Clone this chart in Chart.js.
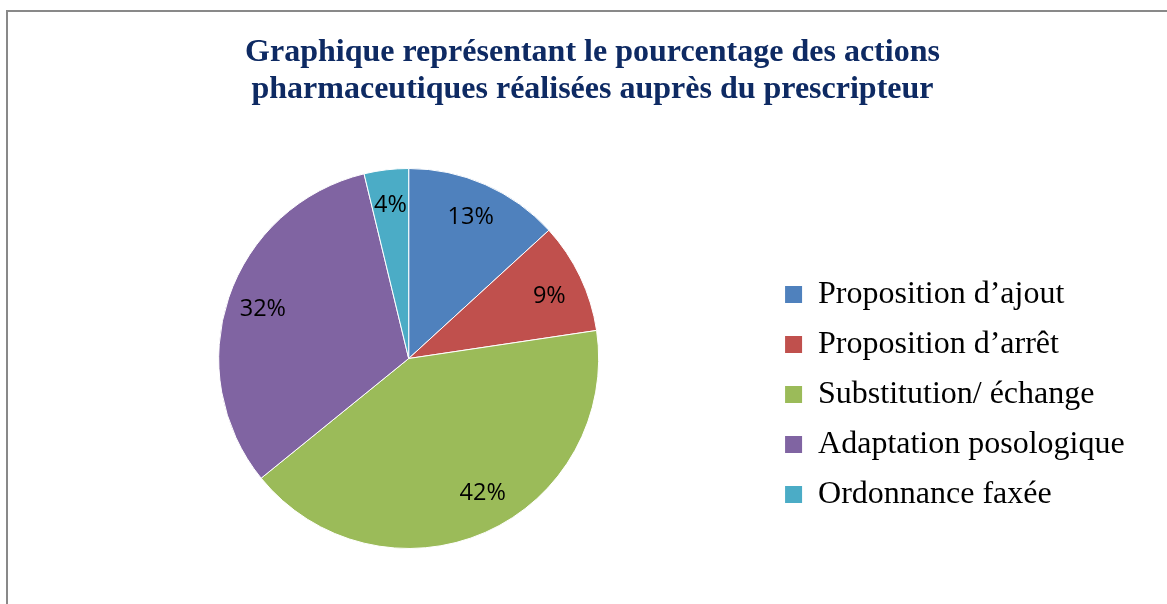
<!DOCTYPE html>
<html><head><meta charset="utf-8">
<script src="https://cdn.jsdelivr.net/npm/chart.js@4.4.1/dist/chart.umd.min.js"></script>
<style>
html,body{margin:0;padding:0;background:#fff;overflow:hidden;width:1167px;height:604px;}
#frame{position:absolute;left:6px;top:10px;width:1300px;height:700px;border-left:2px solid #898989;border-top:2px solid #898989;}
#c{position:absolute;left:0;top:0;}
</style></head><body>
<div id="frame"></div>
<canvas id="c" width="1167" height="604"></canvas>
<script>
// ---- data ----
const titleLines = ['Graphique représentant le pourcentage des actions', 'pharmaceutiques réalisées auprès du prescripteur'];
const categories = ['Proposition d’ajout', 'Proposition d’arrêt', 'Substitution/ échange', 'Adaptation posologique', 'Ordonnance faxée'];
const counts = [7, 5, 22, 17, 2];
const sliceColors = ['#4F81BD', '#C0504D', '#9BBB59', '#8064A2', '#4BACC6'];

const pctLabels = {
  id: 'pctLabels',
  afterDatasetsDraw(chart, args, opts) {
    const meta = chart.getDatasetMeta(0);
    const data = chart.data.datasets[0].data;
    const total = data.reduce((a, b) => a + b, 0);
    const ctx = chart.ctx;
    ctx.save();
    ctx.font = opts.font;
    ctx.fillStyle = opts.color;
    ctx.textAlign = 'center';
    ctx.textBaseline = 'middle';
    meta.data.forEach((arc, i) => {
      const p = arc.getProps(['x', 'y', 'startAngle', 'endAngle', 'outerRadius'], true);
      const mid = (p.startAngle + p.endAngle) / 2 + ((opts.angleShift[i] || 0) * Math.PI / 180);
      const r = p.outerRadius * opts.radiusFactor;
      ctx.fillText(Math.round(data[i] / total * 100) + '%', p.x + r * Math.cos(mid), p.y + r * Math.sin(mid));
    });
    ctx.restore();
  }
};

new Chart(document.getElementById('c'), {
  type: 'pie',
  data: {
    labels: categories,
    datasets: [{
      data: counts,
      backgroundColor: sliceColors,
      borderColor: '#ffffff',
      borderWidth: 1,
      hoverOffset: 0,
      radius: 190,
      clip: false
    }]
  },
  plugins: [pctLabels],
  options: {
    responsive: false,
    animation: false,
    devicePixelRatio: 1,
    layout: { padding: { left: 50.3, right: 32.3, top: 0, bottom: 75.5 } },
    plugins: {
      tooltip: { enabled: false },
      title: {
        display: true,
        text: titleLines,
        color: '#0E2A63',
        font: { family: "'Liberation Serif', 'Times New Roman', serif", size: 32, weight: 'bold', lineHeight: 1.15625 },
        padding: { top: 34.5, bottom: 80 }
      },
      legend: {
        display: true,
        position: 'right',
        align: 'end',
        labels: {
          color: '#000000',
          font: { family: "'Liberation Serif', 'Times New Roman', serif", size: 32 },
          boxWidth: 17,
          boxHeight: 17,
          padding: 18,
          generateLabels: (chart) => categories.map((t, i) => ({
            text: t, fillStyle: sliceColors[i], strokeStyle: sliceColors[i], lineWidth: 0,
            hidden: false, index: i, fontColor: '#000000'
          }))
        }
      },
      pctLabels: {
        font: "23.5px 'Open Sans', sans-serif",
        color: '#000000',
        radiusFactor: 0.81,
        angleShift: [0, 1.5, -5, 0, 0]
      }
    }
  }
});
</script>
</body></html>
